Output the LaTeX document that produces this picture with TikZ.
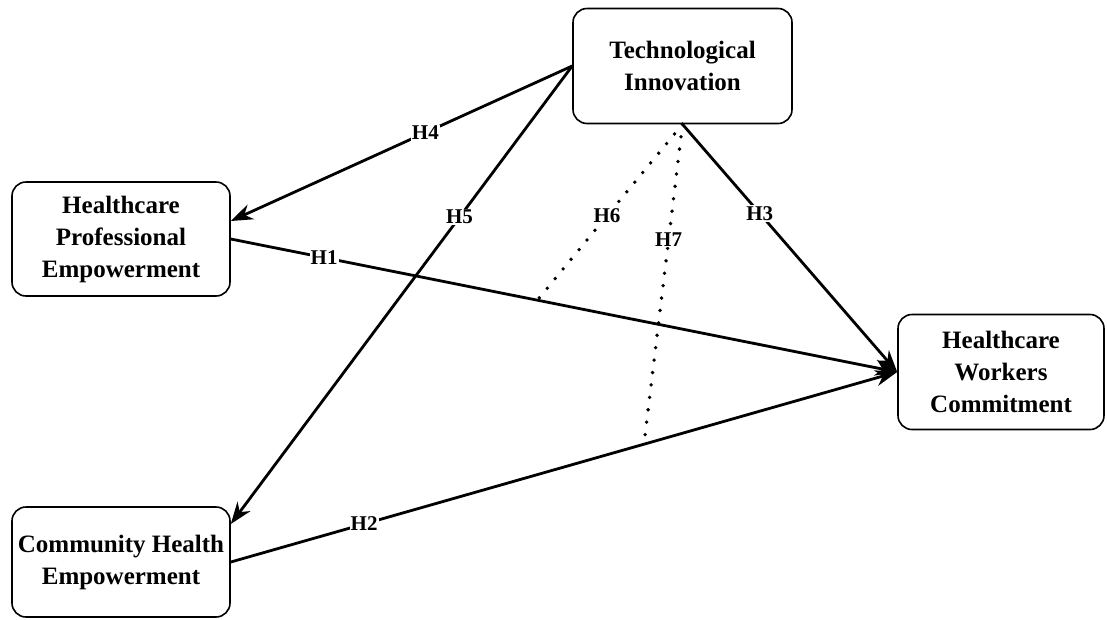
\documentclass[tikz,border=0pt]{standalone}
\usepackage{fontspec}
\setmainfont{Liberation Serif}
\usetikzlibrary{positioning, arrows.meta, calc}

\begin{document}
\begin{tikzpicture}[x=1pt, y=-1pt,
	box/.style={draw, line width=1.6pt, rounded corners=14pt, align=center, inner sep=0pt,
		font=\fontsize{25}{32}\selectfont\bfseries},
	link/.style={line width=2.8pt, -{Stealth[length=22pt, width=16pt]}},
	dotlink/.style={line width=3.8pt, line cap=round, dash pattern=on 0pt off 12.5pt},
	hyp/.style={fill=white, inner sep=1pt, font=\fontsize{21}{21}\selectfont\bfseries}]
	\useasboundingbox (0,0) rectangle (1107,619);
	% constructs
	\node[box, minimum width=219pt, minimum height=115pt] (tech) at (682.5,66) {Technological\\Innovation};
	\node[box, minimum width=218pt, minimum height=114pt] (hpe) at (121,239) {Healthcare\\Professional\\Empowerment};
	\node[box, minimum width=218pt, minimum height=110pt] (che) at (121,562) {Community Health\\Empowerment};
	\node[box, minimum width=206pt, minimum height=115pt] (hwc) at (1001,372) {Healthcare\\Workers\\Commitment};
	% moderating paths end on the direct paths
	\coordinate (m6) at ($(hpe.east)!0.46!(hwc.west)$);
	\coordinate (m7) at ($(che.east)!0.62!(hwc.west)$);
	\draw[dotlink] (tech.south) -- (m6) node[hyp, pos=0.52] (h6) {H6};
	\draw[dotlink] (tech.south) -- (m7) node[hyp, pos=0.36] (h7) {H7};
	% direct paths
	\draw[link] (hpe.east) -- (hwc.west) node[hyp, pos=0.14] (h1) {H1};
	\draw[link] (che.east) -- (hwc.west) node[hyp, pos=0.2] (h2) {H2};
	\draw[link] (tech.south) -- (hwc.west) node[hyp, pos=0.36] (h3) {H3};
	\draw[link] (tech.west) -- ([yshift=18pt]hpe.east) node[hyp, pos=0.43] (h4) {H4};
	\draw[link] (tech.west) -- ([yshift=38pt]che.east) node[hyp, pos=0.33] (h5) {H5};
\end{tikzpicture}
\end{document}
